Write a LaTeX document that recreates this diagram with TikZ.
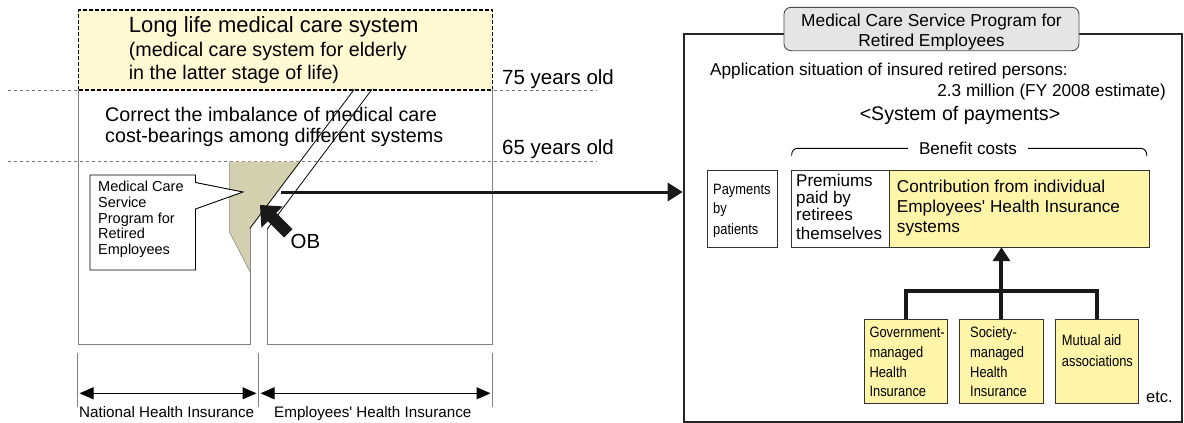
\documentclass[tikz,border=0pt]{standalone}
\usepackage{fontspec}
\setmainfont{Liberation Sans}[Ligatures=TeXOff]
\newfontfamily\narrowfont[FakeStretch=0.86,Ligatures=TeXOff]{Liberation Sans}
\usetikzlibrary{arrows.meta}
\definecolor{ylw}{RGB}{255,245,168}
\definecolor{lylw}{RGB}{255,250,212}
\definecolor{tanc}{RGB}{211,208,176}
\definecolor{ttlgray}{RGB}{229,229,229}
\begin{document}
\begin{tikzpicture}[x=1pt,y=-1pt,
  txt/.style={inner sep=0pt,anchor=base west},
  ctxt/.style={inner sep=0pt,anchor=base},
  agedash/.style={draw=black!55,dash pattern=on 3pt off 3pt,line width=0.8pt},
  graybox/.style={draw=black!50,line width=1pt},
  chan/.style={draw=black,line width=0.8pt},
  rbox/.style={draw=black!80,line width=0.9pt,inner sep=0pt,anchor=north west},
  dimarrow/.style={{Triangle[length=14pt,width=12pt]}-{Triangle[length=14pt,width=12pt]},line width=1pt},
  fbig/.style={font=\fontsize{22}{26}\selectfont},
  fmid/.style={font=\fontsize{19.7}{23}\selectfont},
  fsm/.style={font=\fontsize{17.2}{20}\selectfont},
  fco/.style={font=\fontsize{14.5}{17}\selectfont},
  fnar/.style={font=\narrowfont\fontsize{15}{18}\selectfont},
  fdim/.style={font=\fontsize{15.2}{18}\selectfont}]
\useasboundingbox (0,0) rectangle (1184,423);

% age lines
\coordinate (d75a) at (8,90.7); \coordinate (d75b) at (597,90.7);
\coordinate (d65a) at (8,161.7); \coordinate (d65b) at (597,161.7);
\draw[agedash] (d75a) -- (d75b);
\draw[agedash] (d65a) -- (d65b);

% long life dashed box
\node[draw=black,dash pattern=on 4pt off 2pt,line width=1.2pt,fill=lylw,inner sep=0pt,anchor=north west,
  minimum width=414pt,minimum height=80pt] (llbox) at (78,9.3) {};
\node[txt,fbig] (l1) at (128.6,32.3) {Long life medical care system};
\node[txt,fmid] (l2) at (128.6,56.7) {(medical care system for elderly};
\node[txt,fmid] (l3) at (128.6,79.3) {in the latter stage of life)};
\node[txt,font=\fontsize{20.5}{24}\selectfont] (a75) at (502,84.5) {75 years old};
\node[txt,fmid] (c1) at (105,121.7) {Correct the imbalance of medical care};
\node[txt,fmid] (c2) at (105,142.7) {cost-bearings among different systems};
\node[txt,font=\fontsize{20.5}{24}\selectfont] (a65) at (502,154) {65 years old};

% outer boxes
\draw[graybox] (250,228.3) -- (250,344) -- (78,344) -- (78,89.3);
\draw[graybox] (492,89.3) -- (492,344) -- (267.3,344) -- (267.3,228.9);

% tan region
\fill[tanc] (229.3,161.7) -- (300.5,161.7) -- (250,228.3) -- (250,271.7) -- (229.3,231.7) -- cycle;
\draw[black!45,line width=0.6pt] (229.3,161.7) -- (229.3,231.7) -- (250,271.7);

% channel lines
\draw[chan] (354.3,89.3) -- (250,228.3);
\draw[chan] (372,89.3) -- (267.3,228.9);

% callout
\draw[black,line width=0.9pt,fill=white] (90,175) -- (195.5,175) -- (195.5,182.5) -- (243,192) -- (195.5,209) -- (195.5,270) -- (90,270) -- cycle;
\foreach \t/\y [count=\i] in {Medical Care/191.5,Service/207.3,Program for/223,Retired/238.8,Employees/254.5}
  \node[txt,fco] (co\i) at (98,\y) {\t};

% OB arrow
\fill[black!90] (260,205) -- (282.6,206.4) -- (276.2,212.8) -- (292.5,229.1) -- (284.1,237.5) -- (267.8,221.2) -- (261.4,227.6) -- cycle;
\node[txt,font=\fontsize{20.4}{24}\selectfont] (ob) at (290.5,248) {OB};

% dimension lines
\coordinate (t1a) at (77.7,352.7); \coordinate (t1b) at (77.7,406.7);
\coordinate (t2a) at (258.3,352.7); \coordinate (t2b) at (258.3,406.7);
\coordinate (t3a) at (492,352.7); \coordinate (t3b) at (492,406.7);
\draw[graybox] (t1a) -- (t1b);
\draw[graybox] (t2a) -- (t2b);
\draw[graybox] (t3a) -- (t3b);
\coordinate (n1) at (79.5,393.3); \coordinate (n2) at (256.5,393.3);
\coordinate (e1) at (260.5,393.3); \coordinate (e2) at (490.5,393.3);
\draw[dimarrow] (n1) -- (n2);
\draw[dimarrow] (e1) -- (e2);
\node[txt,fdim] (nhi) at (79,417) {National Health Insurance};
\node[txt,fdim] (ehi) at (274,417) {Employees' Health Insurance};

% right panel
\node[draw=black!85,line width=2pt,inner sep=0pt,anchor=north west,minimum width=498.5pt,minimum height=388pt] (big) at (682.7,33.3) {};
\node[draw=black!70,line width=0.9pt,fill=ttlgray,rounded corners=7pt,inner sep=0pt,minimum width=295pt,minimum height=43.4pt] (ttl) at (931.5,29) {};
\node[ctxt,font=\fontsize{17.3}{20}\selectfont] (ttl1) at (931.5,26) {Medical Care Service Program for};
\node[ctxt,font=\fontsize{17.3}{20}\selectfont] (ttl2) at (931.5,46.7) {Retired Employees};

% horizontal arrow
\coordinate (hs) at (281,192);
\draw[line width=3pt,black!90,-{Triangle[length=15pt,width=18pt]}] (hs) -- (hs -| big.west);

\node[txt,fsm] (app) at (710,75) {Application situation of insured retired persons:};
\node[inner sep=0pt,anchor=base east,fsm] (mil) at (1166,96.7) {2.3 million (FY 2008 estimate)};
\node[ctxt,font=\fontsize{19.6}{23}\selectfont] (sys) at (960,120) {<System of payments>};
\node[ctxt,font=\fontsize{17.1}{20}\selectfont] (ben) at (968,154) {Benefit costs};
\coordinate (bl0) at (791.7,156); \coordinate (bl1) at (791.7,148.3); \coordinate (bl2) at (908,148.3);
\coordinate (br0) at (1028,148.3); \coordinate (br1) at (1146.7,148.3); \coordinate (br2) at (1146.7,156);
\draw[line width=0.9pt,rounded corners=6pt] (bl0) -- (bl1) -- (bl2);
\draw[line width=0.9pt,rounded corners=6pt] (br0) -- (br1) -- (br2);

\node[rbox,fill=white,minimum width=70.6pt,minimum height=77.3pt] (pay) at (706.7,170) {};
\node[rbox,fill=white,minimum width=98.6pt,minimum height=77.3pt] (prem) at (790.7,170) {};
\node[rbox,fill=ylw,minimum width=260pt,minimum height=77.3pt] (con) at (889.3,170) {};
\foreach \t/\y [count=\i] in {Payments/194.3,by/213.3,patients/234}
  \node[txt,fnar] (pa\i) at (713,\y) {\t};
\foreach \t/\y [count=\i] in {Premiums/186.7,paid by/203.3,retirees/220.7,themselves/239.3}
  \node[txt,font=\fontsize{17}{20}\selectfont] (pr\i) at (796,\y) {\t};
\foreach \t/\y [count=\i] in {Contribution from individual/192.3,Employees' Health Insurance/212.3,systems/232.3}
  \node[txt,fsm] (cn\i) at (896.7,\y) {\t};

\node[rbox,fill=ylw,minimum width=83.3pt,minimum height=84pt] (gov) at (864,319.3) {};
\node[rbox,fill=ylw,minimum width=83.4pt,minimum height=84pt] (soc) at (959.3,319.3) {};
\node[rbox,fill=ylw,minimum width=83pt,minimum height=84pt] (mut) at (1054.7,319.3) {};
\foreach \t/\y [count=\i] in {Government-/337.3,managed/357.3,Health/377,Insurance/396.7}
  \node[txt,fnar] (gv\i) at (869.3,\y) {\t};
\foreach \t/\y [count=\i] in {Society-/337.3,managed/357.3,Health/377,Insurance/396.7}
  \node[txt,fnar] (sc\i) at (970,\y) {\t};
\foreach \t/\y [count=\i] in {Mutual aid/345.7,associations/366}
  \node[txt,fnar] (mu\i) at (1061.7,\y) {\t};
\node[txt,font=\fontsize{16.5}{20}\selectfont] (etc) at (1146,402.7) {etc.};

\draw[line width=4pt,black!90] (gov.north) -- ++(0,-28) -| (mut.north);
\draw[line width=4pt,black!90,-{Triangle[length=14pt,width=17pt]},shorten >=-1pt] (soc.north) -- (soc.north |- con.south);
\end{tikzpicture}
\end{document}
